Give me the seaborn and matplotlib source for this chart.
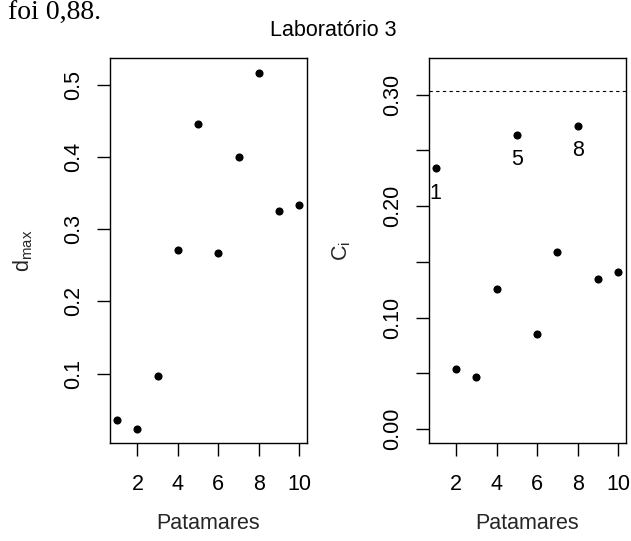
import matplotlib
matplotlib.use("Agg")
import matplotlib.pyplot as plt
import seaborn as sns
import pandas as pd

# ---- data ----
patamares = [1, 2, 3, 4, 5, 6, 7, 8, 9, 10]
d_max = [0.036, 0.023, 0.097, 0.271, 0.446, 0.267, 0.400, 0.516, 0.325, 0.333]
c_i = [0.234, 0.054, 0.047, 0.126, 0.264, 0.085, 0.159, 0.272, 0.135, 0.141]
limite = 0.303
destaque = [1, 5, 8]
x_ticks = [2, 4, 6, 8, 10]
left_yticks = [0.1, 0.2, 0.3, 0.4, 0.5]
right_yticks = [0.00, 0.05, 0.10, 0.15, 0.20, 0.25, 0.30]
right_ylabels = ["0.00", "", "0.10", "", "0.20", "", "0.30"]

df = pd.DataFrame({"Patamares": patamares, "dmax": d_max, "ci": c_i})

sns.set_theme(style="ticks")
plt.rcParams["font.family"] = ["Liberation Sans", "DejaVu Sans"]
plt.rcParams["mathtext.fontset"] = "custom"
plt.rcParams["mathtext.rm"] = "Liberation Sans"
plt.rcParams["mathtext.it"] = "Liberation Sans"

W, H = 631, 541
fig = plt.figure(figsize=(W / 100, H / 100), dpi=100)
fig.patch.set_facecolor("white")

def px_axes(x0, y0, x1, y1):
    return fig.add_axes([x0 / W, 1 - y1 / H, (x1 - x0) / W, (y1 - y0) / H])

ax1 = px_axes(110, 58, 306.5, 443.3)
ax2 = px_axes(428.5, 58, 625.5, 443.3)

FS = 15.5

for ax, col in [(ax1, "dmax"), (ax2, "ci")]:
    sns.scatterplot(data=df, x="Patamares", y=col, ax=ax, color="black",
                    s=34, edgecolor="black", linewidth=0, legend=False)
    ax.set_xlim(0.64, 10.36)
    ax.set_xticks(x_ticks)
    ax.set_xticklabels([str(t) for t in x_ticks], fontsize=FS)
    for sp in ax.spines.values():
        sp.set_visible(True)
        sp.set_linewidth(1.0)
        sp.set_color("black")
    ax.tick_params(axis="both", direction="out", length=9.3, width=1.0,
                   color="black", labelcolor="black")
    ax.tick_params(axis="x", pad=13)
    ax.tick_params(axis="y", pad=9)
    ax.set_xlabel("Patamares", fontsize=FS)
    ax.xaxis.label.set_va("center")
    ax.xaxis.set_label_coords(0.5, -80 / 385.3)
    ax.set_facecolor("white")

ax1.set_ylim(0.0037, 0.5367)
ax1.set_yticks(left_yticks)
ax1.set_yticklabels([f"{v:.1f}" for v in left_yticks], fontsize=FS,
                    rotation=90, va="center")
ax1.set_ylabel(r"$\mathrm{d_{max}}$", fontsize=FS)
ax1.yaxis.label.set_va("center")
ax1.yaxis.set_label_coords((23 - 110) / 196.5, 0.5)

ax2.set_ylim(-0.0128, 0.3328)
ax2.set_yticks(right_yticks)
ax2.set_yticklabels(right_ylabels, fontsize=FS, rotation=90, va="center")
ax2.axhline(limite, color="black", linewidth=0.8, linestyle=(0, (3, 3)))
ax2.set_ylabel(r"$\mathrm{C_i}$", fontsize=FS)
ax2.yaxis.label.set_va("center")
ax2.yaxis.set_label_coords((342 - 428.5) / 197, 0.5)

for p in destaque:
    ax2.annotate(str(p), xy=(p, c_i[p - 1]), xytext=(0, -18),
                 textcoords="offset points", ha="center", va="center",
                 fontsize=FS, color="black")

fig.text(333 / W, 1 - 30 / H, "Laboratório 3", ha="center", va="center",
         fontsize=FS, color="black")
fig.text(8 / W, 1 - 20 / H, "foi 0,88.", ha="left", va="baseline",
         fontsize=20, family=["Liberation Serif", "DejaVu Serif"], color="black")

fig.savefig("out.png", dpi=100, facecolor="white")
